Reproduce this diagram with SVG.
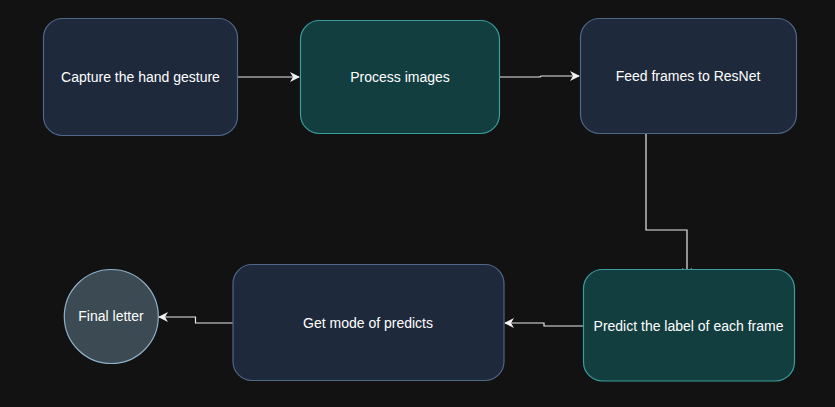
<svg xmlns="http://www.w3.org/2000/svg" width="835" height="407" viewBox="0 0 835 407">
<defs>
<style>
.blue{fill:#1e293b;stroke:#4f6789;stroke-width:1.2}
.teal{fill:#123e40;stroke:#3b9c9c;stroke-width:1.2}
.circ{fill:#3b4a53;stroke:#8fb0c8;stroke-width:1.2}
.lbl{font-family:"Liberation Sans",Arial,sans-serif;font-size:14px;fill:#ffffff;text-anchor:middle;dominant-baseline:central}
.edge{fill:none;stroke:#e8e8e8;stroke-width:1.2}
</style>
<marker id="arr" viewBox="0 0 10 10" refX="9" refY="5" markerWidth="10" markerHeight="10" markerUnits="userSpaceOnUse" orient="auto">
<path d="M0,0 L10,5 L0,10 L3,5 Z" fill="#f0f0f0"/>
</marker>
</defs>
<rect width="835" height="407" fill="#121212"/>
<g id="connectors">
<path class="edge" d="M238,77 L299,77" marker-end="url(#arr)"/>
<path class="edge" d="M500,77 L540,77 L541,76 L579,76" marker-end="url(#arr)"/>
<path class="edge" d="M646,134 L646,230 L687,230 L687,277" marker-end="url(#arr)"/>
<path class="edge" d="M583,326 L544,326 L544,323 L505,323" marker-end="url(#arr)"/>
<path class="edge" d="M233,323 L195.5,323 L195.5,317 L159,317" marker-end="url(#arr)"/>
</g>
<g id="node-capture">
<rect class="blue" x="43.5" y="18.5" width="194" height="117" rx="19"/>
<text class="lbl" x="140.5" y="77">Capture the hand gesture</text>
</g>
<g id="node-process">
<rect class="teal" x="300.5" y="20.5" width="199" height="113" rx="19"/>
<text class="lbl" x="400" y="77">Process images</text>
</g>
<g id="node-feed">
<rect class="blue" x="580.5" y="18.5" width="216" height="115" rx="19"/>
<text class="lbl" x="688" y="76">Feed frames to ResNet</text>
</g>
<g id="node-predict">
<rect class="teal" x="583.5" y="269.5" width="211" height="111.5" rx="19"/>
<text class="lbl" x="688.5" y="326">Predict the label of each frame</text>
</g>
<g id="node-mode">
<rect class="blue" x="233" y="264.5" width="271" height="116" rx="19"/>
<text class="lbl" x="368" y="322.5">Get mode of predicts</text>
</g>
<g id="node-final">
<circle class="circ" cx="111.3" cy="316.5" r="47"/>
<text class="lbl" x="111" y="316">Final letter</text>
</g>
</svg>
